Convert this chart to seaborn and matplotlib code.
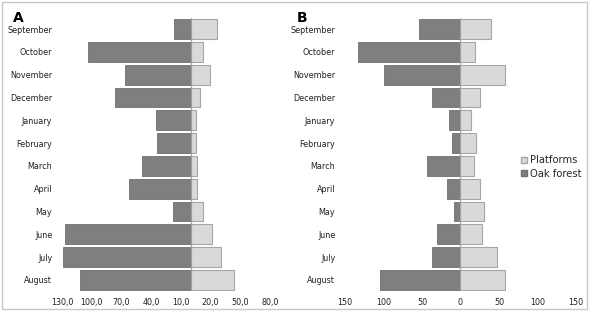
import numpy as np
import pandas as pd
import seaborn as sns
import matplotlib.pyplot as plt
from matplotlib.patches import Rectangle, Patch
from matplotlib.ticker import FuncFormatter

months = ['September', 'October', 'November', 'December', 'January', 'February',
          'March', 'April', 'May', 'June', 'July', 'August']

# panel A
oak_a = [17, 104, 66, 76, 35, 34, 49, 62, 18, 127, 129, 112]
plat_a = [26, 12, 19, 9, 5, 5, 6, 6, 12, 21, 31, 44]
ticks_a = [-130, -100, -70, -40, -10, 20, 50, 80]

# panel B
oak_b = [54, 133, 100, 37, 15, 11, 43, 17, 8, 30, 37, 105]
plat_b = [40, 19, 58, 25, 14, 20, 18, 25, 30, 28, 47, 58]
ticks_b = [-150, -100, -50, 0, 50, 100, 150]

sns.set_theme(style='white')
plt.rcParams['font.family'] = ['DejaVu Sans']

fig = plt.figure(figsize=(5.89, 3.11), dpi=100)

dark, light = '#7f7f7f', '#d9d9d9'
W, H = 589, 311


def panel(rect, oak, plat, ticks, xlim, fmt, letter, lx):
    ax = fig.add_axes([rect[0] / W, 1 - rect[3] / H, (rect[2] - rect[0]) / W,
                       (rect[3] - rect[1]) / H])
    df = pd.DataFrame({'month': months, 'oak': -np.array(oak), 'plat': plat})
    sns.barplot(df, x='plat', y='month', color=light, edgecolor='#a6a6a6',
                linewidth=0.8, width=0.87, saturation=1, ax=ax, orient='h')
    sns.barplot(df, x='oak', y='month', color=dark, edgecolor='#707070',
                linewidth=0.6, width=0.87, saturation=1, ax=ax, orient='h')
    ax.axvline(0, color='#a0a0a0', lw=0.8, zorder=5)
    ax.set_xlim(*xlim)
    ax.set_xticks(ticks)
    ax.xaxis.set_major_formatter(FuncFormatter(fmt))
    ax.set_xlabel('')
    ax.set_ylabel('')
    for s in ax.spines.values():
        s.set_visible(False)
    ax.tick_params(axis='both', length=0, labelsize=5.8, colors='#202020')
    ax.tick_params(axis='y', pad=7)
    ax.tick_params(axis='x', pad=5)
    fig.text(lx / W, 1 - 18 / H, letter, fontsize=10, fontweight='bold',
             ha='left', va='center', color='black')
    return ax


panel((62, 17.6, 270, 291.4), oak_a, plat_a, ticks_a, (-130, 80),
      lambda v, p: f'{abs(v):.1f}'.replace('.', ','), 'A', 13)
axb = panel((345, 17.6, 576, 291.4), oak_b, plat_b, ticks_b, (-150, 150),
            lambda v, p: f'{abs(v):.0f}', 'B', 297)

handles = [Patch(facecolor=light, edgecolor='#a6a6a6', label='Platforms'),
           Patch(facecolor=dark, edgecolor='#707070', label='Oak forest')]
fig.legend(handles=handles, loc='center left', bbox_to_anchor=(521 / W, 1 - 167 / H),
           frameon=False, fontsize=7.2, handlelength=0.6, handleheight=0.6,
           handletextpad=0.3, labelspacing=0.35, borderaxespad=0, borderpad=0)

fig.patches.append(Rectangle((2 / W, 2 / H), 585 / W, 307 / H, transform=fig.transFigure,
                             fill=False, edgecolor='#c8c8c8', lw=1))

fig.savefig('out.png', dpi=100)
